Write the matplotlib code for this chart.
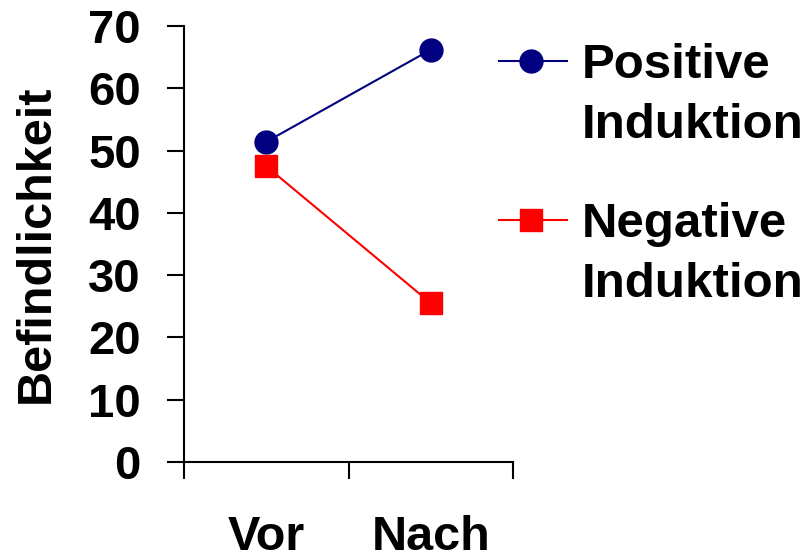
import matplotlib
matplotlib.use('Agg')
import matplotlib.pyplot as plt

# werte
zeitpunkte = ['Vor', 'Nach']
positiv = [51.4, 66.2]
negativ = [47.5, 25.5]
serien = ['Positive\nInduktion', 'Negative\nInduktion']
yticks = [0, 10, 20, 30, 40, 50, 60, 70]

plt.rcParams['font.family'] = ['Liberation Sans', 'DejaVu Sans']
plt.rcParams['font.weight'] = 'bold'
plt.rcParams['font.size'] = 34

fig = plt.figure(figsize=(8.03, 5.59), dpi=100)
ax = fig.add_axes([0.229, 0.1735, 0.410, 0.780])

x = [i + 0.5 for i in range(len(zeitpunkte))]
stile = [dict(color='#000080', marker='o', ms=16.5),
         dict(color='#ff0000', marker='s', ms=16)]
for werte, st in zip([positiv, negativ], stile):
    ax.plot(x, werte, lw=1.5, **st)

ax.set_xlim(0, len(zeitpunkte))
ax.set_ylim(0, 70)
ax.set_yticks(yticks)
ax.set_xticks([0, 1, 2])
ax.set_xticklabels([])
ax.set_xticks(x, minor=True)
ax.set_xticklabels(zeitpunkte, minor=True, fontsize=35)

ax.spines['top'].set_visible(False)
ax.spines['right'].set_visible(False)
for s in ['left', 'bottom']:
    ax.spines[s].set_linewidth(1.5)
ax.tick_params(axis='y', length=12, width=1.5, pad=19)
ax.tick_params(axis='x', which='major', length=12, width=1.5)
ax.tick_params(axis='x', which='minor', length=0, pad=38)

ax.set_ylabel('Befindlichkeit', fontweight='bold', fontsize=35, labelpad=21)

# legende von hand, damit das symbol auf der ersten zeile sitzt
zeile = 60 / 436.0
oben = [0.919, 0.554]
for name, st, y0 in zip(serien, stile, oben):
    ax.plot([0.957, 1.164], [y0, y0], transform=ax.transAxes, clip_on=False,
            color=st['color'], lw=1.5)
    ax.plot([1.055], [y0], transform=ax.transAxes, clip_on=False, ls='none', **st)
    for k, teil in enumerate(name.split('\n')):
        ax.text(1.207, y0 - 0.038 - k * zeile, teil, transform=ax.transAxes,
                ha='left', va='baseline', fontsize=35.5)

fig.savefig('out.png', dpi=100)
